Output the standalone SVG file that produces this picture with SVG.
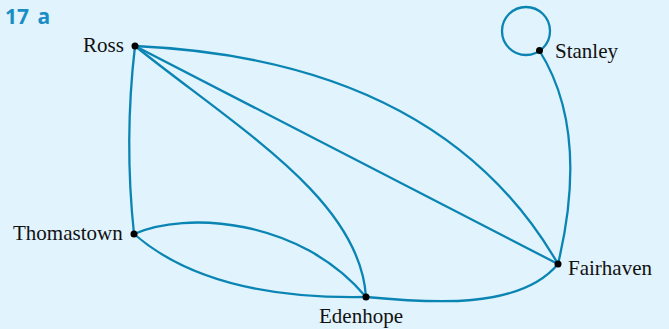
<svg xmlns="http://www.w3.org/2000/svg" width="669" height="329" viewBox="0 0 669 329">
<style>
.e{fill:none;stroke:#0a85b3;stroke-width:2.3}
.n{fill:#000}
.l{font-family:"Liberation Serif",serif;font-size:21px;fill:#111}
.t{font-family:"Open Sans","Liberation Sans",sans-serif;font-weight:bold;font-size:21px;fill:#1a8ec4}
</style>
<rect width="669" height="329" fill="#e1f3fc"/>
<text class="t" x="5" y="24">17 <tspan dx="3">a</tspan></text>
<g id="connectors">
<path class="e" d="M135,46 Q124,140 134,234"/>
<path class="e" d="M135,46 Q440,60 558,264"/>
<path class="e" d="M135,46 L558,264"/>
<path class="e" d="M135,46 C240,130 360,200 366,297"/>
<path class="e" d="M134,234 C185,211 300,218 366,297"/>
<path class="e" d="M134,234 Q210,300 366,297"/>
<path class="e" d="M366,297 C430,303 520,310 558,264"/>
<path class="e" d="M539,50 Q590,130 558,264"/>
<circle class="e" cx="526" cy="31" r="24"/>
</g>
<g id="ross"><circle class="n" cx="135" cy="46" r="3.5"/><text class="l" x="83" y="52">Ross</text></g>
<g id="stanley"><circle class="n" cx="539.5" cy="50.5" r="3.5"/><text class="l" x="555" y="58">Stanley</text></g>
<g id="thomastown"><circle class="n" cx="134" cy="234" r="3.5"/><text class="l" x="13" y="240">Thomastown</text></g>
<g id="edenhope"><circle class="n" cx="366" cy="297" r="3.5"/><text class="l" x="319" y="323">Edenhope</text></g>
<g id="fairhaven"><circle class="n" cx="558" cy="264" r="3.5"/><text class="l" x="568" y="275">Fairhaven</text></g>
</svg>
